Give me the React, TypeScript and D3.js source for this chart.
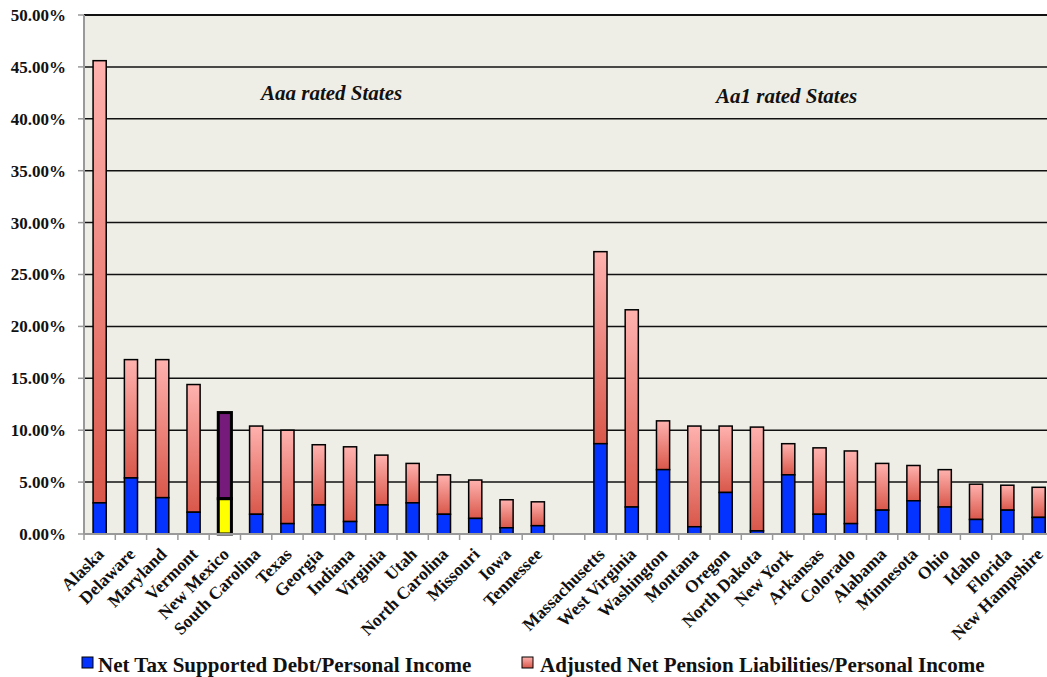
import * as d3 from "d3";

const STATES = [
  "Alaska", "Delaware", "Maryland", "Vermont", "New Mexico", "South Carolina", "Texas",
  "Georgia", "Indiana", "Virginia", "Utah", "North Carolina", "Missouri", "Iowa", "Tennessee",
  "",
  "Massachusetts", "West Virginia", "Washington", "Montana", "Oregon", "North Dakota",
  "New York", "Arkansas", "Colorado", "Alabama", "Minnesota", "Ohio", "Idaho", "Florida",
  "New Hampshire",
];

// net tax supported debt / personal income (%)
const DEBT = [
  3.0, 5.4, 3.5, 2.1, 3.4, 1.9, 1.0, 2.8, 1.2, 2.8, 3.0, 1.9, 1.5, 0.6, 0.8,
  0,
  8.7, 2.6, 6.2, 0.7, 4.0, 0.3, 5.7, 1.9, 1.0, 2.3, 3.2, 2.6, 1.4, 2.3, 1.6,
];

// adjusted net pension liabilities / personal income (%)
const PENSION = [
  42.6, 11.4, 13.3, 12.3, 8.3, 8.5, 9.0, 5.8, 7.2, 4.8, 3.8, 3.8, 3.7, 2.7, 2.3,
  0,
  18.5, 19.0, 4.7, 9.7, 6.4, 10.0, 3.0, 6.4, 7.0, 4.5, 3.4, 3.6, 3.4, 2.4, 2.9,
];

const Y_TICKS = [0, 5, 10, 15, 20, 25, 30, 35, 40, 45, 50];
const HIGHLIGHT = "New Mexico";
const LEGEND = ["Net Tax Supported Debt/Personal Income", "Adjusted Net Pension Liabilities/Personal Income"];
const GROUPS = [
  { label: "Aaa rated States", x: 261, y: 100 },
  { label: "Aa1 rated States", x: 716, y: 103 },
];

const W = 1047;
const H = 677;
const LEFT = 84;
const TOP = 15;
const BOTTOM = 534;
const BAND = 31.3;
const RIGHT = LEFT + BAND * STATES.length;

const serif = { fontFamily: "Liberation Serif, Times New Roman, serif" };

export default function App() {
  const x = d3.scaleBand<number>()
    .domain(d3.range(STATES.length))
    .range([LEFT, RIGHT])
    .paddingInner(0.58)
    .paddingOuter(0.29);
  const y = d3.scaleLinear().domain([0, 50]).range([BOTTOM, TOP]);
  const bw = x.bandwidth();
  const fmt = (v: number) => v.toFixed(2) + "%";

  return (
    <svg width={W} height={H} style={{ position: "absolute", left: 0, top: 0, background: "#fff" }}>
      <defs>
        <linearGradient id="pink" x1="0" y1="0" x2="0" y2="1">
          <stop offset="0" stopColor="#ffb2af" />
          <stop offset="1" stopColor="#d9574a" />
        </linearGradient>
      </defs>

      {/* plot background */}
      <rect x={LEFT} y={TOP} width={RIGHT - LEFT} height={BOTTOM - TOP} fill="#efeee6" />

      {/* grid lines */}
      {Y_TICKS.filter(t => t > 0).map(t => (
        <line key={t} x1={LEFT} x2={RIGHT} y1={y(t)} y2={y(t)} stroke="#111" strokeWidth={t === 50 ? 2 : 1.5} />
      ))}

      {/* y axis */}
      <line x1={LEFT} x2={LEFT} y1={TOP} y2={BOTTOM} stroke="#999" strokeWidth={2} />
      {Y_TICKS.map(t => (
        <g key={t}>
          <line x1={LEFT - 6} x2={LEFT} y1={y(t)} y2={y(t)} stroke="#999" strokeWidth={1.5} />
          <text x={66} y={y(t)} dy="0.35em" textAnchor="end" fontSize={17} fontWeight="bold" fill="#111" style={serif}>
            {fmt(t)}
          </text>
        </g>
      ))}

      {/* bars */}
      {STATES.map((s, i) => {
        if (!s) return null;
        const hi = s === HIGHLIGHT;
        const x0 = x(i)!;
        const yd = y(DEBT[i]);
        const yt = y(DEBT[i] + PENSION[i]);
        return (
          <g key={s}>
            <rect x={x0} y={yt} width={bw} height={yd - yt}
              fill={hi ? "#761a7b" : "url(#pink)"} stroke="#000" strokeWidth={hi ? 3 : 1.5} />
            <rect x={x0} y={yd} width={bw} height={BOTTOM - yd}
              fill={hi ? "#ffff00" : "#0433ff"} stroke="#000" strokeWidth={hi ? 3 : 1.5} />
          </g>
        );
      })}

      {/* x axis */}
      <line x1={LEFT} x2={RIGHT} y1={BOTTOM} y2={BOTTOM} stroke="#999" strokeWidth={2} />
      {d3.range(STATES.length + 1).map(i => (
        <line key={i} x1={LEFT + i * BAND} x2={LEFT + i * BAND} y1={BOTTOM} y2={BOTTOM + 6}
          stroke="#999" strokeWidth={1.5} />
      ))}
      {STATES.map((s, i) => s && (
        <text key={s} transform={`translate(${x(i)! + bw / 2 + 1},${551}) rotate(-45)`}
          textAnchor="end" dy="0.35em" fontSize={17.5} fontWeight="bold" fill="#111" style={serif}>
          {s}
        </text>
      ))}

      {/* group annotations */}
      {GROUPS.map(g => (
        <text key={g.label} x={g.x} y={g.y} fontSize={21} fontWeight="bold" fontStyle="italic" fill="#111" style={serif}>
          {g.label}
        </text>
      ))}

      {/* legend */}
      <rect x={82} y={657} width={11} height={11} fill="#0433ff" stroke="#000" strokeWidth={1} />
      <text x={98} y={672} fontSize={21} fontWeight="bold" fill="#111" style={serif}>{LEGEND[0]}</text>
      <rect x={522} y={657} width={11} height={11} fill="url(#pink)" stroke="#000" strokeWidth={1} />
      <text x={540} y={672} fontSize={21} fontWeight="bold" fill="#111" style={serif}>{LEGEND[1]}</text>
    </svg>
  );
}
